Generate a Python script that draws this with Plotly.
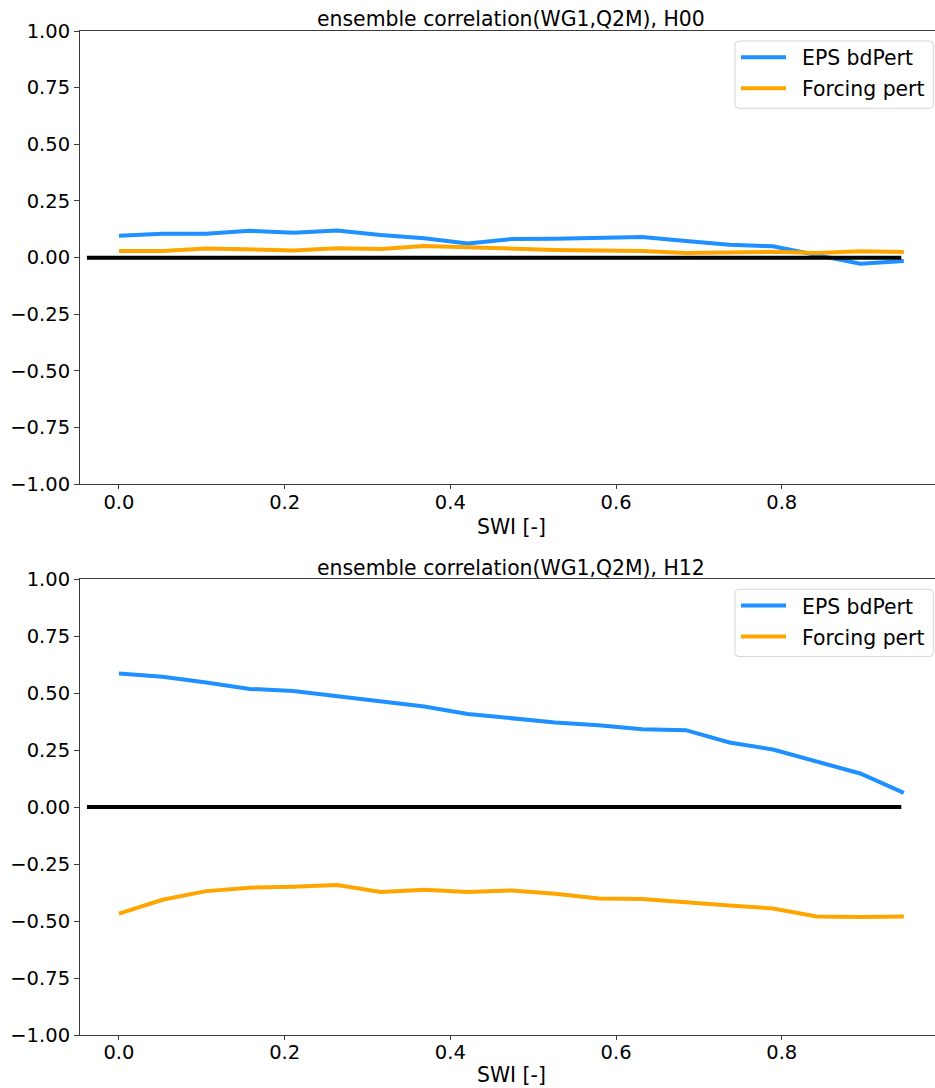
import plotly.graph_objects as go
from plotly.subplots import make_subplots

# SWI bins (19 equally spaced bin starts)
swi = [i / 19 for i in range(19)]

# Ensemble correlation, analysis hour 00
h00_eps_bdpert = [0.097, 0.106, 0.105, 0.119, 0.110, 0.120, 0.100, 0.086, 0.062, 0.082,
                  0.083, 0.089, 0.091, 0.073, 0.057, 0.050, 0.010, -0.027, -0.015]
h00_forcing = [0.029, 0.029, 0.040, 0.035, 0.032, 0.042, 0.038, 0.051, 0.045, 0.040,
               0.034, 0.032, 0.029, 0.020, 0.022, 0.026, 0.020, 0.028, 0.025]

# Ensemble correlation, analysis hour 12
h12_eps_bdpert = [0.586, 0.571, 0.546, 0.518, 0.509, 0.487, 0.464, 0.441, 0.408, 0.390,
                  0.371, 0.359, 0.341, 0.337, 0.283, 0.252, 0.198, 0.147, 0.062]
h12_forcing = [-0.468, -0.407, -0.369, -0.354, -0.350, -0.342, -0.373, -0.363, -0.373, -0.366,
               -0.380, -0.401, -0.404, -0.416, -0.432, -0.445, -0.480, -0.482, -0.480]

zero_line_x = [-0.0386, 0.9443]
zero_line_y = [0, 0]

titles = ["ensemble correlation(WG1,Q2M), H00", "ensemble correlation(WG1,Q2M), H12"]
series_names = ["EPS bdPert", "Forcing pert"]
x_label = "SWI [-]"
y_ticks = [-1.0, -0.75, -0.5, -0.25, 0.0, 0.25, 0.5, 0.75, 1.0]
x_ticks = [0.0, 0.2, 0.4, 0.6, 0.8]

BLUE = "#1E90FF"
ORANGE = "#FFA500"
FONT = "DejaVu Sans"

W, H = 935, 1088
ML, MR, MT, MB = 80, 0, 31, 53
PW, PH = W - ML - MR, H - MT - MB


def px_x(px):
    return (px - ML) / PW


def px_y(py):
    return 1 - (py - MT) / PH


fig = make_subplots(rows=2, cols=1, vertical_spacing=0.0)

panels = [
    (h00_eps_bdpert, h00_forcing, 0.0),
    (h12_eps_bdpert, h12_forcing, 548.3),
]

for row, (eps, forc, off) in enumerate(panels, start=1):
    fig.add_trace(go.Scatter(x=swi, y=eps, mode="lines", name=series_names[0],
                             line=dict(color=BLUE, width=4), showlegend=False),
                  row=row, col=1)
    fig.add_trace(go.Scatter(x=swi, y=forc, mode="lines", name=series_names[1],
                             line=dict(color=ORANGE, width=4), showlegend=False),
                  row=row, col=1)
    fig.add_trace(go.Scatter(x=zero_line_x, y=zero_line_y, mode="lines",
                             line=dict(color="black", width=4), showlegend=False),
                  row=row, col=1)

    # title and x label
    fig.add_annotation(text=titles[row - 1], xref="paper", yref="paper",
                       x=px_x(511), y=px_y(19.5 + off), xanchor="center", yanchor="middle",
                       showarrow=False, font=dict(family=FONT, size=20.4, color="black"))
    fig.add_annotation(text=x_label, xref="paper", yref="paper",
                       x=px_x(511), y=px_y(527 + off), xanchor="center", yanchor="middle",
                       showarrow=False, font=dict(family=FONT, size=20.4, color="black"))

    # legend box
    x0, x1, y0, y1, r = 735, 933.3, 41 + off, 108.3 + off, 4
    path = (f"M {px_x(x0 + r)} {px_y(y0)} L {px_x(x1 - r)} {px_y(y0)} "
            f"Q {px_x(x1)} {px_y(y0)} {px_x(x1)} {px_y(y0 + r)} "
            f"L {px_x(x1)} {px_y(y1 - r)} Q {px_x(x1)} {px_y(y1)} {px_x(x1 - r)} {px_y(y1)} "
            f"L {px_x(x0 + r)} {px_y(y1)} Q {px_x(x0)} {px_y(y1)} {px_x(x0)} {px_y(y1 - r)} "
            f"L {px_x(x0)} {px_y(y0 + r)} Q {px_x(x0)} {px_y(y0)} {px_x(x0 + r)} {px_y(y0)} Z")
    fig.add_shape(type="path", path=path, xref="paper", yref="paper",
                  line=dict(color="#d6d6d6", width=1), fillcolor="rgba(255,255,255,0.8)",
                  layer="above")
    for k, (name, col) in enumerate(zip(series_names, [BLUE, ORANGE])):
        yc = 57.3 + 31 * k + off
        fig.add_shape(type="line", xref="paper", yref="paper",
                      x0=px_x(741), x1=px_x(786), y0=px_y(yc), y1=px_y(yc),
                      line=dict(color=col, width=4), layer="above")
        fig.add_annotation(text=name, xref="paper", yref="paper",
                           x=px_x(800), y=px_y(yc + 1), xanchor="left", yanchor="middle",
                           showarrow=False, font=dict(family=FONT, size=20.4, color="black"))

axis_common = dict(showline=True, linecolor="#3a3a3a", linewidth=1.1, ticks="outside",
                   tickwidth=1.1, tickcolor="#3a3a3a", showgrid=False,
                   zeroline=False, tickfont=dict(family=FONT, size=19.5, color="black"))

for row in (1, 2):
    fig.update_xaxes(range=[-0.047, -0.047 + PW / 828.5], tickvals=x_ticks, tickformat=".1f",
                     mirror=True, ticklen=4, ticklabelstandoff=-4, row=row, col=1,
                     **axis_common)
    fig.update_yaxes(range=[-1, 1], tickvals=y_ticks, tickformat=".2f", ticklen=5,
                     row=row, col=1, **axis_common)

fig.update_layout(
    xaxis=dict(domain=[0, 1]),
    xaxis2=dict(domain=[0, 1]),
    yaxis=dict(domain=[1 - (484.3 - MT) / PH, 1]),
    yaxis2=dict(domain=[0, 1 - (579 - MT) / PH]),
    width=W, height=H,
    margin=dict(l=ML, r=MR, t=MT, b=MB),
    paper_bgcolor="white", plot_bgcolor="white",
    font=dict(family=FONT, color="black"),
    showlegend=False,
)

fig.write_html("out.html")
